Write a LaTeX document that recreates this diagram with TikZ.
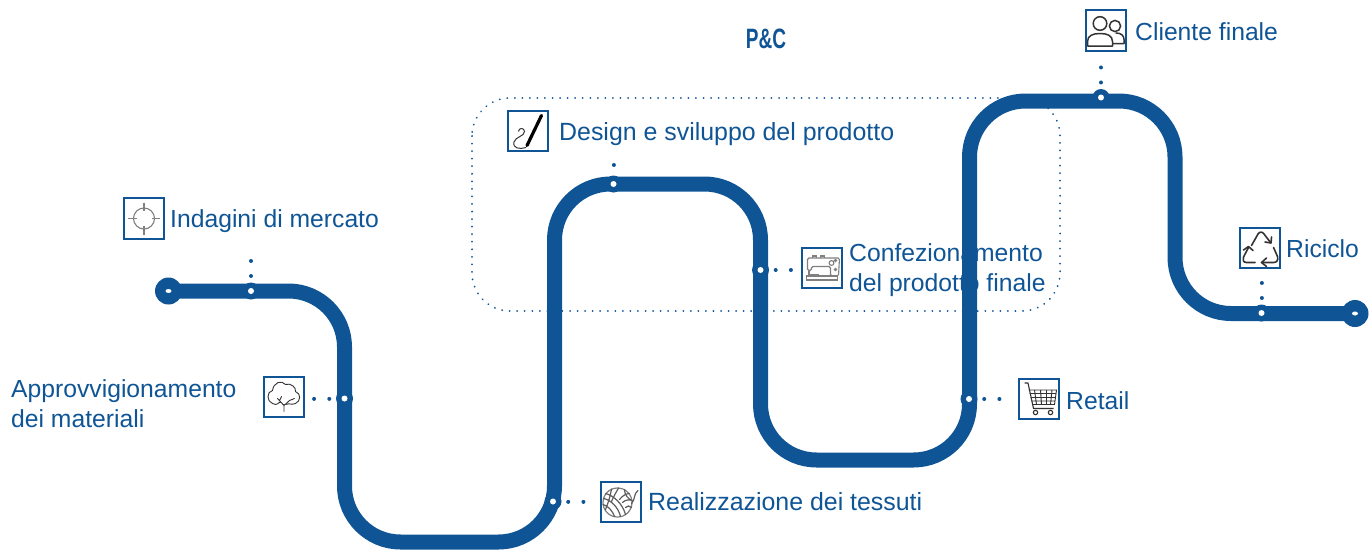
\documentclass[tikz,border=0pt]{standalone}
\usepackage{fontspec}
\usetikzlibrary{shapes.geometric}
\setmainfont{Liberation Sans}
\definecolor{mainblue}{HTML}{0F5596}
\definecolor{icongray}{HTML}{808080}
\definecolor{icondark}{HTML}{333333}
\tikzset{
  route/.style={draw=mainblue,line width=15pt,rounded corners=56pt},
  label/.style={text=mainblue,font=\fontsize{24.7}{30}\selectfont,anchor=west,align=left,inner sep=0pt},
  widelabel/.style={label,font=\fontsize{24.9}{30}\selectfont},
  iconbox/.style={draw=mainblue,line width=2pt,fill=white,minimum size=40.5pt,inner sep=0pt,outer sep=0pt,anchor=north west},
  halo/.style={circle,fill=mainblue,minimum size=17pt,inner sep=0pt},
  hole/.style={circle,fill=white,minimum size=6pt,inner sep=0pt},
  endcap/.style={circle,fill=mainblue,minimum size=27pt,inner sep=0pt},
  holeend/.style={ellipse,fill=white,minimum width=6pt,minimum height=4pt,inner sep=0pt},
  dotlink/.style={draw=mainblue,line width=4pt,line cap=round,dash pattern=on 0.01pt off #1},
  frame/.style={draw=mainblue,line width=2pt,line cap=round,dash pattern=on 0.01pt off 7.54pt,rounded corners=38pt},
  thinicon/.style={draw=icongray,line width=1.1pt},
  darkicon/.style={draw=icondark,line width=1.1pt,line cap=round,line join=round},
}
\begin{document}
\begin{tikzpicture}[x=1pt,y=-1pt]
\useasboundingbox (0,0) rectangle (1370,552);
% frame and title
\draw[frame] (472,98) rectangle (1060,311);
\node[text=mainblue,inner sep=0pt] (title) at (766,38.5) {\scalebox{0.68}[1]{\fontsize{28}{30}\selectfont\textbf{P\&C}}};
% labels
\node[label] (l1) at (170,221) {Indagini di mercato};
\node[label] (l2) at (11,404) {Approvvigionamento\\dei materiali};
\node[widelabel] (l3) at (648,502) {Realizzazione dei tessuti};
\node[widelabel] (l4) at (559,134) {Design e sviluppo del prodotto};
\node[label] (l5) at (849,270) {Confezionamento\\del prodotto finale};
\node[label] (l6) at (1066,400.5) {Retail};
\node[label] (l7) at (1135,31.5) {Cliente finale};
\node[label] (l8) at (1286,248.5) {Riciclo};
% route
\draw[route] (168.5,291) -- (344.5,291) -- (344.5,542) -- (554.5,542) -- (554.5,184) -- (760.5,184) -- (760.5,460) -- (969.5,460) -- (969.5,101) -- (1175,101) -- (1175,313.5) -- (1355,313.5);
% dotted links
\coordinate (d1) at (251,260.5);
\coordinate (d2) at (314,398.5);
\coordinate (d3) at (584,501.5);
\coordinate (d4) at (613.5,164.5);
\coordinate (d5) at (791,270);
\coordinate (d6) at (1000,399);
\coordinate (d7) at (1101,67);
\coordinate (d8) at (1261.5,282.5);
\node[endcap] (startcap) at (168.5,291) {};
\node[holeend] (starthole) at (168.5,291) {};
\node[endcap] (stopcap) at (1355,313.5) {};
\node[holeend] (stophole) at (1355,313.5) {};
\foreach \n/\x/\y/\p in {1/251/291/15pt,2/344.5/398.5/15.2pt,3/553/501.5/15.2pt,4/613.5/184/19pt,5/760.5/270/15.2pt,6/969/399/15.2pt,7/1101/97.5/15pt,8/1261.5/313/15pt}{
  \node[halo] (s\n) at (\x,\y) {};
  \draw[dotlink=\p] (s\n.center) -- (d\n);
  \node[hole] (h\n) at (\x,\y) {};
}
% icon 1: target
\node[iconbox] (i1) at (123.5,198) {};
\begin{scope}[shift={(123.5,198)}]
  \draw[thinicon] (20.5,20.5) circle (10.5);
  \draw[thinicon] (20.5,4.5) -- (20.5,13) (20.5,28) -- (20.5,36.5) (4.5,20.5) -- (13,20.5) (28,20.5) -- (36.5,20.5);
\end{scope}
% icon 2: cotton
\node[iconbox] (i2) at (263.5,376.5) {};
\begin{scope}[shift={(263.5,376.5)}]
  \draw[darkicon,line width=.9pt] (9,27) .. controls (3,25) and (3,15) .. (9,14) .. controls (10,6) and (18,3) .. (22,8) .. controls (27,6) and (33,11) .. (32,15) .. controls (38,17) and (37,25) .. (32,27);
  \draw[darkicon,line width=.9pt] (9,27) .. controls (14,30) and (15,25) .. (17,26) (32,27) .. controls (28,29) and (25,26) .. (23,28);
  \draw[darkicon,line width=.9pt] (20.5,35) -- (20.5,28) (20.5,29) -- (14,22) (20.5,29) -- (26,24) (16,24) -- (18,20) (26,24) -- (31,22);
\end{scope}
% icon 3: yarn
\node[iconbox] (i3) at (600.5,481.5) {};
\begin{scope}[shift={(598.5,481.5)}]
  \draw[darkicon,line width=1.2pt,fill=white,draw=icongray] (19,21) circle (14.5);
  \draw[darkicon,line width=1.2pt,draw=icondark!80] (7,12) .. controls (15,14) and (24,22) .. (27,33)
    (5,17) .. controls (12,18) and (20,26) .. (22,35)
    (4.5,23) .. controls (9,24) and (14,29) .. (16,35)
    (13,7.5) .. controls (12,13) and (11,18) .. (7,28)
    (20,6.5) .. controls (17,12) and (15,15) .. (13,20)
    (26,8) .. controls (26,14) and (30,17) .. (33,19)
    (21,18) .. controls (24,14) and (28,12) .. (31,12)
    (24,21) .. controls (27,18) and (31,18) .. (33.5,19)
    (27,26) .. controls (29,24) and (31,24) .. (33,26)
    (33,22) .. controls (37,18) and (35,12) .. (39.5,9);
\end{scope}
% icon 4: pen
\node[iconbox] (i4) at (507.5,110.5) {};
\begin{scope}[shift={(507.5,110.5)}]
  \draw[black,line width=3.2pt,line cap=round] (34,5) -- (19.5,35);
  \draw[icondark,line width=1pt] (18.5,37) .. controls (12,39) and (5,38) .. (6.5,31.5) .. controls (8,26) and (17,26) .. (17,21) .. controls (17,17) and (11,17) .. (11,21);
\end{scope}
% icon 5: sewing machine
\node[iconbox] (i5) at (801.5,247.5) {};
\begin{scope}[shift={(801.5,247.5)}]
  \draw[thinicon] (5,28.5) rectangle (36,32.5);
  \draw[thinicon,rounded corners=1.5pt] (6,10.5) -- (38,10.5) -- (37,28.5) -- (29,28.5) -- (29,19) -- (10,19) -- (10,23) -- (6,23) -- cycle;
  \draw[thinicon] (7.5,23) -- (7.5,27) -- (17,27) (11,10.5) -- (11,8.5) -- (15,8.5) -- (15,10.5) (19,10.5) -- (19,8.5) -- (23,8.5) -- (23,10.5);
  \draw[thinicon] (30,15.5) circle (2.4) (34,22) circle (1) (34,13) circle (1);
\end{scope}
% icon 6: cart
\node[iconbox] (i6) at (1018.5,378.5) {};
\begin{scope}[shift={(1018.5,378.5)}]
  \draw[icondark,line width=1.1pt,line join=round] (6,4.5) -- (9.5,4.5) -- (15,30) -- (35,30);
  \draw[icondark,line width=.9pt] (10,11.5) -- (38,11.5) -- (36,26) -- (14,26)
    (12,19) -- (37,19) (11,15) -- (37.5,15) (13,22.5) -- (36.5,22.5)
    (16,11.5) -- (18,26) (22,11.5) -- (23,26) (28,11.5) -- (28,26) (33.5,11.5) -- (32,26);
  \draw[icondark,line width=1.1pt] (17,34) circle (2.2) (32,34) circle (2.2);
\end{scope}
% icon 7: users
\node[iconbox] (i7) at (1085.5,10) {};
\begin{scope}[shift={(1085,9.5)}]
  \draw[darkicon,line width=1.5pt] (30,16.5) circle (5.6);
  \draw[darkicon,line width=1.5pt] (31,23.5) .. controls (36,23.5) and (39,26) .. (39,30) -- (39,34) -- (28,34);
  \draw[darkicon,line width=1.5pt,fill=white] (15,14) circle (6.8);
  \draw[darkicon,line width=1.5pt,fill=white] (2.5,36.5) -- (2.5,32) .. controls (2.5,26) and (8,24) .. (15,24) .. controls (22,24) and (27.5,26) .. (27.5,32) -- (27.5,36.5) -- cycle;
\end{scope}
% icon 8: recycle
\node[iconbox] (i8) at (1239.5,227.5) {};
\begin{scope}[shift={(1239.5,227.5)}]
  \draw[darkicon,line width=1.6pt] (12,18) -- (18.5,6.5) .. controls (20,4) and (23,4) .. (24.5,6.5) -- (31,15);
  \draw[darkicon,line width=1.6pt] (25.5,14.5) -- (31.5,15.5) -- (32,9.5);
  \draw[darkicon,line width=1.6pt] (34,20) -- (38,29) .. controls (39,33) and (37,35) .. (34,35) -- (23,35);
  \draw[darkicon,line width=1.6pt] (27,30.5) -- (22,35) -- (27,39);
  \draw[darkicon,line width=1.6pt] (15.5,35) -- (7,35) .. controls (3.5,35) and (3,32) .. (4,29.5) -- (9,20);
  \draw[darkicon,line width=1.6pt] (4,22.5) -- (9,19) -- (13.5,23);
\end{scope}
\end{tikzpicture}
\end{document}
